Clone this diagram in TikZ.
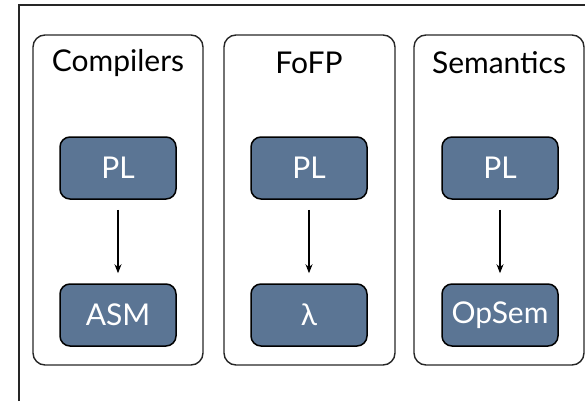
\documentclass[tikz,border=0pt]{standalone}
\usepackage{fontspec}
\setmainfont{Lato}
\usetikzlibrary{arrows.meta}
\definecolor{slateblue}{HTML}{5B7594}
\tikzset{>={Stealth[length=9pt,width=7pt]}}
\tikzset{
  area/.style={draw=black!85,line width=1.4pt,rounded corners=12pt},
  heading/.style={font=\fontsize{30}{31}\selectfont,text=black},
  lang/.style={draw=black,line width=1.5pt,fill=slateblue,rounded corners=10pt,
    minimum width=116pt,minimum height=62pt,inner sep=0pt,
    text=white,font=\fontsize{30}{31}\selectfont},
  step arrow/.style={->,line width=1.2pt}
}

\begin{document}
\begin{tikzpicture}[x=1pt,y=-1pt]
    \useasboundingbox (0,0) rectangle (585,401);
    % slide frame
    \draw[black!85,line width=1.5pt] (19,401) -- (19,5) -- (585,5);
    % three areas
    \draw[area] (33,35) rectangle (203,365);
    \draw[area] (224,35) rectangle (395,365);
    \draw[area] (414,35) rectangle (584,365);
    \node[heading] (compilers) at (118,63) {Compilers};
    \node[heading] (fofp) at (309,63) {FoFP};
    \node[heading] (semantics) at (499,63) {Semantics};
    % source languages
    \node[lang] (pl1) at (118,168) {PL};
    \node[lang] (pl2) at (309,168) {PL};
    \node[lang] (pl3) at (500,168) {PL};
    % targets
    \node[lang] (asm) at (118,315) {ASM};
    \node[lang] (lam) at (309,315) {λ};
    \node[lang] (opsem) at (500,315) {OpSem};
    \draw[step arrow] ([yshift=-10pt]pl1.south) -- ([yshift=10pt]asm.north);
    \draw[step arrow] ([yshift=-10pt]pl2.south) -- ([yshift=10pt]lam.north);
    \draw[step arrow] ([yshift=-10pt]pl3.south) -- ([yshift=10pt]opsem.north);
\end{tikzpicture}
\end{document}
